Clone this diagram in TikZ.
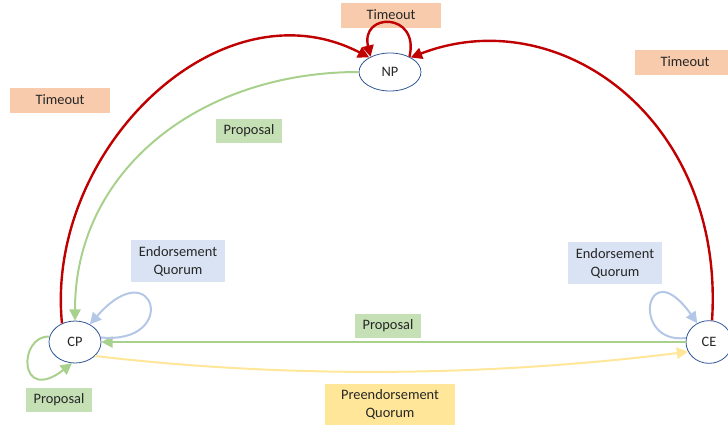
\documentclass[tikz,border=0pt]{standalone}
\usepackage{fontspec}
\setmainfont{Carlito}
\usetikzlibrary{shapes.geometric,arrows.meta}
\definecolor{tored}{HTML}{C00000}
\definecolor{prgreen}{HTML}{A9D18E}
\definecolor{prfill}{HTML}{C5E0B4}
\definecolor{eqblue}{HTML}{B4C7E7}
\definecolor{eqfill}{HTML}{DAE3F3}
\definecolor{peyellow}{HTML}{FFE699}
\definecolor{tofill}{HTML}{F8CBAD}
\definecolor{stborder}{HTML}{2F5597}
\definecolor{txt}{HTML}{262626}
\begin{document}
\begin{tikzpicture}[
  x=0.75pt, y=-0.75pt,
  state/.style={ellipse, draw=stborder, line width=0.6pt, fill=white, inner sep=0pt},
  tobox/.style={fill=tofill, minimum width=75pt, minimum height=18.75pt, inner sep=0pt},
  prbox/.style={fill=prfill, minimum width=50pt, minimum height=18pt, inner sep=0pt},
  eqbox/.style={fill=eqfill, minimum width=70.5pt, minimum height=32pt, inner sep=0pt, align=center},
  pebox/.style={fill=peyellow, minimum width=97.5pt, minimum height=30.75pt, inner sep=0pt, align=center},
  tip/.style={-{Triangle[length=8.5pt,width=8.5pt]}},
  font=\fontsize{10.8}{13.5}\selectfont, text=txt
]
\useasboundingbox (0,0) rectangle (728,425);
\node[state, minimum width=46.5pt, minimum height=28.5pt] (np) at (390,72) {NP};
\node[state, minimum width=39pt, minimum height=31.5pt] (cp) at (75,342) {CP};
\node[state, minimum width=34.5pt, minimum height=32pt] (ce) at (709,342) {CE};

\node[tobox] (totop) at (391,15) {Timeout};
\node[tobox] (toleft) at (60,100) {Timeout};
\node[tobox] (toright) at (685,62) {Timeout};
\node[prbox] (prnp) at (249,131) {Proposal};
\node[prbox] (prce) at (388,326) {Proposal};
\node[prbox] (prcp) at (59,400) {Proposal};
\node[eqbox] (eqcp) at (178,261) {Endorsement\\Quorum};
\node[eqbox] (eqce) at (615,263) {Endorsement\\Quorum};
\node[pebox] (pecp) at (390,404) {Preendorsement\\Quorum};

% timeouts
\draw[tip, tored, line width=1.8pt] (cp.125) .. controls (45,150) and (220,-20) .. (np.145);
\draw[tip, tored, line width=1.8pt] (ce.82) .. controls (725,120) and (560,0) .. (np.35);
\draw[tip, tored, line width=1.8pt] (np.38) .. controls (420,12) and (360,12) .. (np.142);
% proposals
\draw[tip, prgreen, line width=1.5pt] (np.west) .. controls (200,72) and (75,170) .. (cp.north);
\draw[tip, prgreen, line width=1.5pt] (ce.west) -- (cp.east);
\draw[tip, prgreen, line width=1.5pt] (cp.168) .. controls (18,335) and (18,405) .. (cp.262);
% quorums
\draw[tip, eqblue, line width=1.5pt] (cp.10) .. controls (180,345) and (155,250) .. (cp.50);
\draw[tip, eqblue, line width=1.5pt] (ce.170) .. controls (630,345) and (645,250) .. (ce.122);
\draw[tip, peyellow, line width=1.5pt] (cp.-35) .. controls (300,380) and (500,375) .. (ce.205);
\end{tikzpicture}
\end{document}
